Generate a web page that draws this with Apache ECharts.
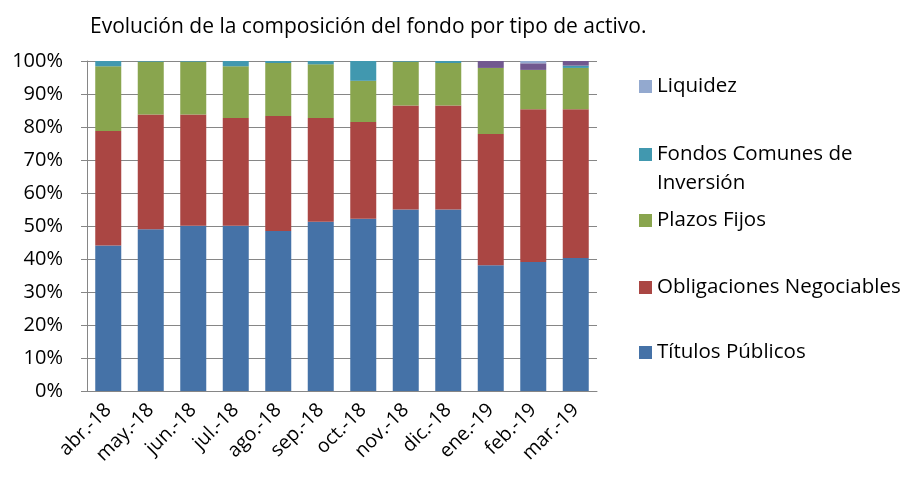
<!DOCTYPE html>
<html>
<head>
<meta charset="utf-8">
<script src="https://cdn.jsdelivr.net/npm/echarts@6/dist/echarts.min.js"></script>
<style>
  html, body { margin: 0; padding: 0; background: #fff; }
  #chart { width: 911px; height: 477px; }
</style>
</head>
<body>
<div id="chart"></div>
<script>
const months = ['abr.-18', 'may.-18', 'jun.-18', 'jul.-18', 'ago.-18', 'sep.-18',
  'oct.-18', 'nov.-18', 'dic.-18', 'ene.-19', 'feb.-19', 'mar.-19']

// % del fondo por tipo de activo
const titulosPublicos = [44.1, 49.0, 50.1, 50.1, 48.5, 51.3, 52.2, 55.0, 55.0, 38.1, 39.1, 40.3]
const obligaciones = [34.7, 34.8, 33.7, 32.6, 34.8, 31.4, 29.3, 31.5, 31.5, 39.8, 46.3, 45.1]
const plazosFijos = [19.6, 16.0, 16.0, 15.7, 16.1, 16.3, 12.5, 13.3, 12.9, 20.0, 11.9, 12.5]
const fondosComunes = [1.6, 0.2, 0.2, 1.6, 0.6, 1.0, 6.0, 0.2, 0.6, 0, 0, 0.7]
const otros = [0, 0, 0, 0, 0, 0, 0, 0, 0, 2.1, 2.0, 1.4]
const liquidez = [0, 0, 0, 0, 0, 0, 0, 0, 0, 0, 0.7, 0]

const yTicks = [0, 10, 20, 30, 40, 50, 60, 70, 80, 90, 100]

const font = 'Open Sans'
const chart = echarts.init(document.getElementById('chart'))

const legendBase = {
  orient: 'vertical',
  left: 639,
  padding: 0,
  itemWidth: 13,
  itemHeight: 13,
  icon: 'rect',
  selectedMode: false,
  textStyle: { fontFamily: font, fontSize: 20.5, color: '#000' }
}

const mkSeries = (name, data, color) => ({
  name,
  type: 'bar',
  stack: 'total',
  barWidth: 26,
  data,
  itemStyle: { color },
  emphasis: { disabled: true }
})

chart.setOption({
  animation: false,
  title: {
    text: 'Evolución de la composición del fondo por tipo de activo.',
    left: 85,
    top: 12,
    textStyle: { fontFamily: font, fontSize: 21, fontWeight: 'normal', color: '#000' }
  },
  legend: [
    { ...legendBase, top: 76, data: ['Liquidez'] },
    {
      ...legendBase,
      top: 111,
      data: ['Fondos Comunes de\nInversión'],
      formatter: (name) => ' \n' + name,
      textStyle: { ...legendBase.textStyle, lineHeight: 29 }
    },
    { ...legendBase, top: 210, data: ['Plazos Fijos'] },
    { ...legendBase, top: 277, data: ['Obligaciones Negociables'] },
    { ...legendBase, top: 342, data: ['Títulos Públicos'] }
  ],
  grid: { left: 87, top: 61, width: 510, height: 330 },
  xAxis: {
    type: 'category',
    data: months,
    axisLine: { lineStyle: { color: '#868686' } },
    axisTick: { show: false },
    axisLabel: {
      rotate: 45,
      interval: 0,
      margin: 16,
      fontFamily: font,
      fontSize: 19.5,
      color: '#000'
    }
  },
  yAxis: {
    type: 'value',
    min: yTicks[0],
    max: yTicks[yTicks.length - 1],
    interval: 10,
    axisLine: { show: true, lineStyle: { color: '#868686' } },
    axisTick: { show: true, length: 6, lineStyle: { color: '#868686' } },
    splitLine: { lineStyle: { color: '#868686' } },
    axisLabel: {
      margin: 24,
      fontFamily: font,
      fontSize: 20,
      color: '#000',
      formatter: '{value}%'
    }
  },
  series: [
    mkSeries('Títulos Públicos', titulosPublicos, '#4572A7'),
    mkSeries('Obligaciones Negociables', obligaciones, '#AA4643'),
    mkSeries('Plazos Fijos', plazosFijos, '#89A54E'),
    mkSeries('Fondos Comunes de\nInversión', fondosComunes, '#4198AF'),
    mkSeries('Otros', otros, '#71588F'),
    mkSeries('Liquidez', liquidez, '#93A9CF')
  ]
})
</script>
</body>
</html>
